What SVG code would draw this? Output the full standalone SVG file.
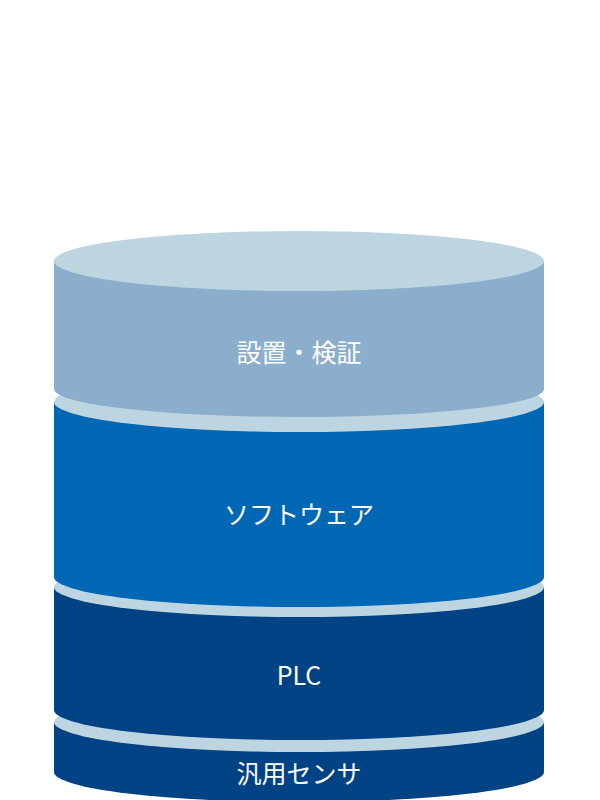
<svg xmlns="http://www.w3.org/2000/svg" width="600" height="800" viewBox="0 0 600 800">
<style>
.cap{fill:#bdd4e1}
.t{font-family:"Noto Sans CJK JP","Noto Sans",sans-serif;font-size:25px;fill:#fff;text-anchor:middle}
</style>
<rect width="600" height="800" fill="#fff"/>
<g id="layer4">
<path d="M54 722 V772 A245 30 0 0 0 544 772 V722 Z" fill="#004385"/>
<ellipse class="cap" cx="299" cy="722" rx="245" ry="30"/>
</g>
<g id="layer3">
<path d="M54 587 V710 A245 30 0 0 0 544 710 V587 Z" fill="#004385"/>
<ellipse class="cap" cx="299" cy="587" rx="245" ry="30"/>
</g>
<g id="layer2">
<path d="M54 402 V577 A245 30 0 0 0 544 577 V402 Z" fill="#0067b5"/>
<ellipse class="cap" cx="299" cy="402" rx="245" ry="30"/>
</g>
<g id="layer1">
<path d="M54 261 V389 A245 28 0 0 0 544 389 V261 Z" fill="#8aaecb"/>
<ellipse class="cap" cx="299" cy="261" rx="245" ry="30"/>
</g>
<text class="t" x="299" y="362">設置・検証</text>
<text class="t" x="299" y="524">ソフトウェア</text>
<text class="t" x="299" y="685">PLC</text>
<text class="t" x="299" y="783">汎用センサ</text>
</svg>
